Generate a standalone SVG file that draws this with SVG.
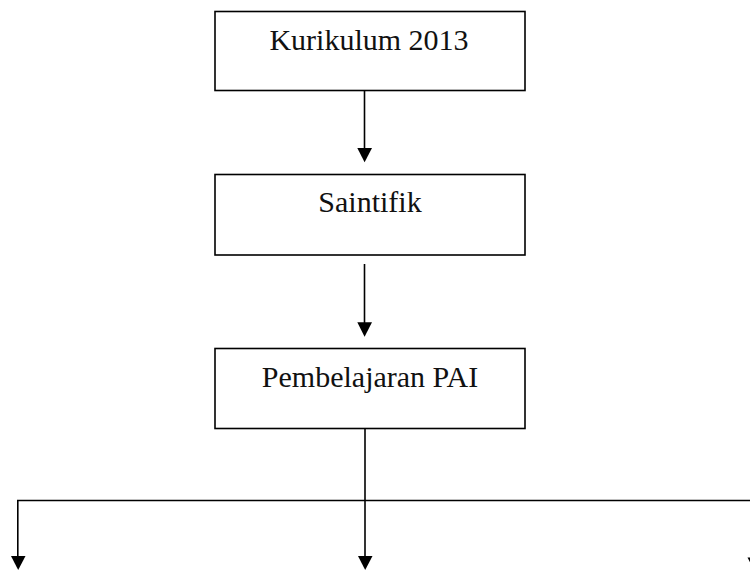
<svg xmlns="http://www.w3.org/2000/svg" width="750" height="570" viewBox="0 0 750 570">
<style>
.box{fill:#fff;stroke:#000;stroke-width:1.6}
.lbl{font-family:"Liberation Serif","Times New Roman",serif;font-size:30px;fill:#111;text-anchor:middle}
.ln{fill:none;stroke:#000;stroke-width:1.6}
.head{fill:#000}
</style>
<rect width="750" height="570" fill="#fff"/>
<g id="n1"><rect class="box" x="215" y="11.5" width="310" height="79"/><text class="lbl" x="369" y="50">Kurikulum 2013</text></g>
<g id="n2"><rect class="box" x="215" y="174.5" width="310" height="80.5"/><text class="lbl" x="370" y="211.5">Saintifik</text></g>
<g id="n3"><rect class="box" x="215" y="348.5" width="310" height="80"/><text class="lbl" x="370" y="387">Pembelajaran PAI</text></g>
<g id="connectors">
<line class="ln" x1="364.5" y1="90.5" x2="364.5" y2="150"/>
<polygon class="head" points="357.3,148 372,148 364.6,162.3"/>
<line class="ln" x1="364.5" y1="264" x2="364.5" y2="324"/>
<polygon class="head" points="357.3,322.3 372,322.3 364.6,336.7"/>
<line class="ln" x1="365" y1="428.5" x2="365" y2="558"/>
<polygon class="head" points="358,556 372.5,556 365.2,570"/>
<polyline class="ln" points="17.8,558 17.8,500.5 760,500.5"/>
<polygon class="head" points="11,556 25.5,556 18.2,570"/>
<line class="ln" x1="755" y1="500.5" x2="755" y2="560"/>
<polygon class="head" points="747.5,557.5 762,557.5 754.7,571.5"/>
</g>
</svg>
